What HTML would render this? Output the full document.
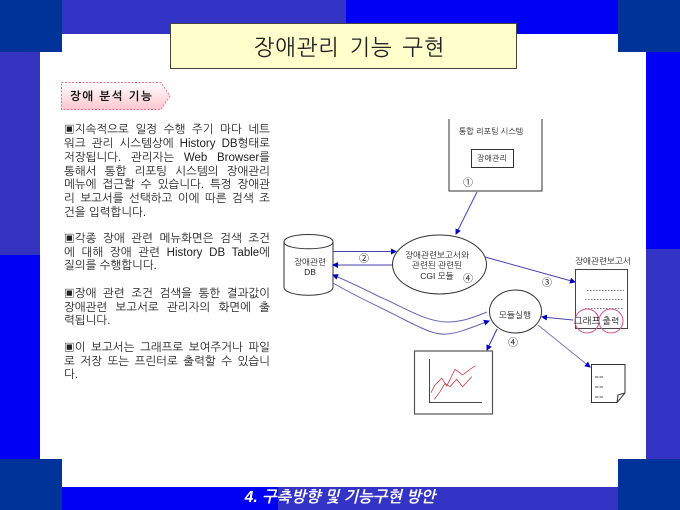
<!DOCTYPE html>
<html lang="ko">
<head>
<meta charset="utf-8">
<style>
html,body{margin:0;padding:0;background:#fff;}
#p{position:relative;width:680px;height:510px;overflow:hidden;background:#fff;font-family:"Liberation Sans","NanumGothic","Noto Sans CJK KR",sans-serif;}
.r{position:absolute;}
.l{position:absolute;left:64px;width:206px;height:14px;line-height:14px;font-size:11.500px;color:#222;white-space:normal;text-align:justify;text-align-last:justify;}
.e{text-align-last:left;}
svg{position:absolute;left:0;top:0;}
svg text{font-family:"Liberation Sans","NanumGothic","Noto Sans CJK KR",sans-serif;fill:#222;}
</style>
</head>
<body>
<div id="p">
<div class="r" style="left:62px;top:0;width:284px;height:34px;background:#3333c6;"></div>
<div class="r" style="left:346px;top:0;width:272px;height:34px;background:#0000f5;"></div>
<div class="r" style="left:0;top:52px;width:40px;height:203px;background:#3333c0;"></div>
<div class="r" style="left:0;top:255px;width:40px;height:204px;background:#0000f5;"></div>
<div class="r" style="left:646px;top:52px;width:34px;height:197px;background:#0000f5;"></div>
<div class="r" style="left:646px;top:249px;width:34px;height:210px;background:#3333c6;"></div>
<div class="r" style="left:62px;top:487px;width:216px;height:23px;background:#0000f5;"></div>
<div class="r" style="left:278px;top:487px;width:340px;height:23px;background:#3333c6;"></div>
<div class="r" style="left:0;top:0;width:62px;height:52px;background:#003399;"></div>
<div class="r" style="left:618px;top:0;width:62px;height:52px;background:#003399;"></div>
<div class="r" style="left:0;top:459px;width:62px;height:51px;background:#003399;"></div>
<div class="r" style="left:618px;top:459px;width:62px;height:51px;background:#003399;"></div>
<div class="r" style="left:170px;top:23px;width:333px;padding-left:12px;height:44px;background:#ffffcc;border:1px solid #444;line-height:47px;text-align:center;font-size:22px;letter-spacing:0.800px;color:#222;word-spacing:3px;">장애관리 기능 구현</div>
<div class="l" style="top:123px;">▣지속적으로 일정 수행 주기 마다 네트</div>
<div class="l" style="top:137px;">워크 관리 시스템상에 History DB형태로</div>
<div class="l" style="top:151px;">저장됩니다. 관리자는 Web Browser를</div>
<div class="l" style="top:165px;">통해서 통합 리포팅 시스템의 장애관리</div>
<div class="l" style="top:178px;">메뉴에 접근할 수 있습니다. 특정 장애관</div>
<div class="l" style="top:192px;">리 보고서를 선택하고 이에 따른 검색 조</div>
<div class="l e" style="top:206px;">건을 입력합니다.</div>
<div class="l" style="top:232px;">▣각종 장애 관련 메뉴화면은 검색 조건</div>
<div class="l" style="top:246px;">에 대해 장애 관련 History DB Table에</div>
<div class="l e" style="top:259px;">질의를 수행합니다.</div>
<div class="l" style="top:287px;">▣장애 관련 조건 검색을 통한 결과값이</div>
<div class="l" style="top:301px;">장애관련 보고서로 관리자의 화면에 출</div>
<div class="l e" style="top:314px;">력됩니다.</div>
<div class="l" style="top:341px;">▣이 보고서는 그래프로 보여주거나 파일</div>
<div class="l" style="top:355px;">로 저장 또는 프린터로 출력할 수 있습니</div>
<div class="l e" style="top:368px;">다.</div>
<svg width="680" height="510" viewBox="0 0 680 510">
<defs>
<linearGradient id="g" x1="0" y1="0" x2="0" y2="1"><stop offset="0" stop-color="#fff"/><stop offset="1" stop-color="#ffc6d0"/></linearGradient>
<marker id="a" markerWidth="6" markerHeight="6" refX="5" refY="3" orient="auto" markerUnits="userSpaceOnUse"><path d="M0,0L6,3L0,6z" fill="#0000c0"/></marker>
</defs>
<path d="M61.500,82.500H161L170,96L161,109.500H61.500z" fill="url(#g)" stroke="#e0708a" stroke-dasharray="2 1.500"/>
<text x="70" y="100" font-size="11.500" font-weight="bold" style="fill:#111" letter-spacing="1.500">장애 분석 기능</text>
<path d="M449,119V191H542V119" fill="none" stroke="#333"/>
<text x="491" y="134" font-size="8" text-anchor="middle">통합 리포팅 시스템</text>
<rect x="471.500" y="149.500" width="42" height="18" fill="#fff" stroke="#333"/>
<text x="492" y="161" font-size="8" text-anchor="middle">장애관리</text>
<text x="468" y="186" font-size="10" text-anchor="middle">①</text>
<path d="M477,192L456,234" stroke="#4444b0" fill="none" marker-end="url(#a)"/>
<path d="M284,242C284,232 333,232 333,242V287C333,298 284,298 284,287z" fill="#fff" stroke="#333"/>
<path d="M284,242C284,251 333,251 333,242" fill="none" stroke="#333"/>
<text x="310" y="265" font-size="8.500" text-anchor="middle">장애관련</text>
<text x="310" y="275" font-size="8.500" text-anchor="middle">DB</text>
<path d="M333,251.500H396" stroke="#4444b0" fill="none" marker-end="url(#a)"/>
<path d="M392,265H333" stroke="#4444b0" fill="none" marker-end="url(#a)"/>
<text x="364" y="262" font-size="10" text-anchor="middle">②</text>
<ellipse cx="439.500" cy="264.500" rx="47" ry="29.500" fill="#fff" stroke="#333"/>
<text x="437" y="258" font-size="8.500" text-anchor="middle">장애관련보고서와</text>
<text x="437" y="268" font-size="8.500" text-anchor="middle">관련된 관련된</text>
<text x="437" y="279" font-size="8.500" text-anchor="middle">CGI 모듈</text>
<text x="468" y="282" font-size="10" text-anchor="middle">④</text>
<path d="M485,257L575,282" stroke="#4444b0" fill="none" marker-end="url(#a)"/>
<text x="547" y="286" font-size="10" text-anchor="middle">③</text>
<text x="603" y="264" font-size="8.500" text-anchor="middle">장애관련보고서</text>
<rect x="575.500" y="269.500" width="52" height="59" fill="#fff" stroke="#444"/>
<path d="M587,290.500H624M585,299.500H624M585,308.500H624" stroke="#777" stroke-dasharray="1.500 1.500" fill="none"/>
<circle cx="587" cy="321" r="12" fill="none" stroke="#d05a90"/>
<circle cx="611" cy="321" r="12" fill="none" stroke="#d05a90"/>
<text x="587" y="324" font-size="9.500" text-anchor="middle">그래프</text>
<text x="611" y="324" font-size="9" text-anchor="middle">출력</text>
<path d="M573,320L542,317" stroke="#4444b0" fill="none" marker-end="url(#a)"/>
<ellipse cx="515.500" cy="311.500" rx="26" ry="21.500" fill="#fff" stroke="#333"/>
<text x="515" y="318" font-size="8.500" text-anchor="middle">모듈실행</text>
<path d="M497,329L487,350" stroke="#3333b0" fill="none" marker-end="url(#a)"/>
<text x="513" y="346" font-size="10" text-anchor="middle">④</text>
<path d="M538,325L590,367" stroke="#7777b0" fill="none" marker-end="url(#a)"/>
<path d="M591.500,364.500H625V393L617,402.500H591.500z" fill="#fff" stroke="#333"/>
<path d="M617,402.500L618,395L625,393" fill="none" stroke="#333"/>
<path d="M595,377H603M595,387H603M595,397H603" stroke="#555" stroke-dasharray="3.500 1" fill="none"/>
<path d="M487,312C470,319 460,322 447,322C425,322 400,305 380,297C360,287 345,280 333,275" stroke="#6666b0" fill="none" marker-end="url(#a)"/>
<path d="M333,283C355,296 380,307 405,320C425,330 435,335 447,334C460,333 475,326 489,321" stroke="#6666b0" fill="none" marker-end="url(#a)"/>
<rect x="414.500" y="351" width="78" height="63" fill="#fff" stroke="#555" stroke-width="1.200"/>
<path d="M429.500,359V402.500H482" fill="none" stroke="#444"/>
<path d="M431,392.700L435,385L441.700,378.300L446.700,386L455,369.300L462.700,375L470,369.300L475.700,365.700" fill="none" stroke="#c04050" stroke-width="0.800"/>
<path d="M434.300,399.300L440,391.700L445,383.300L450,386.700L456.700,379.300L462.700,386.700L471.700,376.700" fill="none" stroke="#c04050" stroke-width="0.800"/>
<text x="340" y="502" font-size="15.500" font-weight="bold" font-style="italic" text-anchor="middle" style="fill:#fff">4. 구축방향 및 기능구현 방안</text>
</svg>
</div>
</body>
</html>
